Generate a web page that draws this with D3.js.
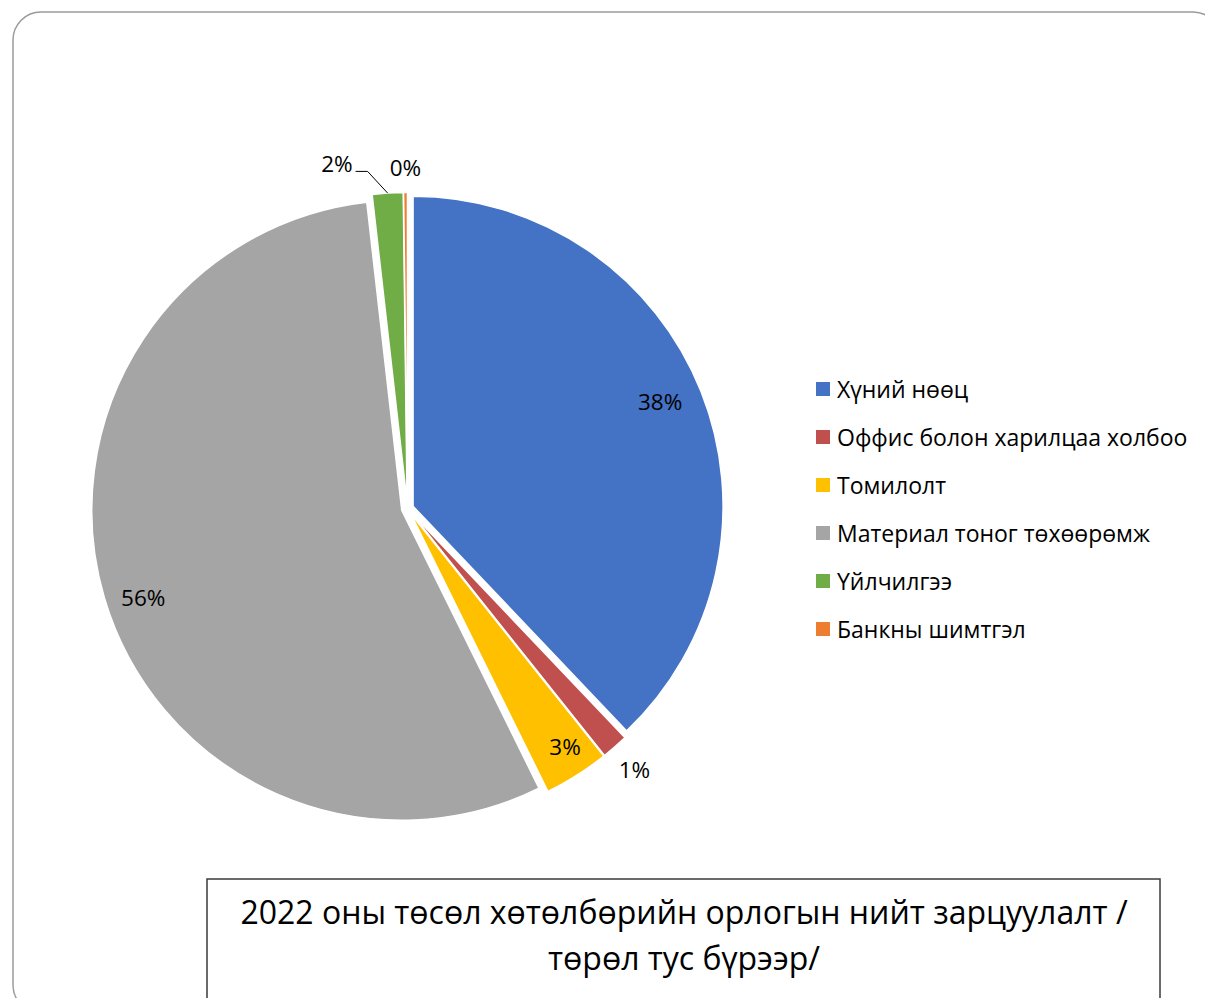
<!DOCTYPE html>
<html>
<head>
<meta charset="utf-8">
<script src="https://cdn.jsdelivr.net/npm/d3@7/dist/d3.min.js"></script>
<style>
  html, body { margin: 0; padding: 0; background: #fff; }
  svg { display: block; }
  text { font-family: "Open Sans", "Noto Sans", sans-serif; fill: #000; }
</style>
</head>
<body>
<svg id="chart" width="1205" height="998"></svg>
<script>
const categories = ["Хүний нөөц", "Оффис болон харилцаа холбоо", "Томилолт", "Материал тоног төхөөрөмж", "Үйлчилгээ", "Банкны шимтгэл"];
const values = [37.9, 1.4, 3.4, 55.5, 1.6, 0.2];
const colors = ["#4472C4", "#C0504D", "#FFC000", "#A5A5A5", "#70AD47", "#ED7D31"];
const titleLines = ["2022 оны төсөл хөтөлбөрийн орлогын нийт зарцуулалт /", "төрөл тус бүрээр/"];

const svg = d3.select("#chart");

// outer rounded frame
svg.append("rect")
  .attr("x", 13).attr("y", 12).attr("width", 1208).attr("height", 1001)
  .attr("rx", 28).attr("ry", 28)
  .attr("fill", "none").attr("stroke", "#9a9a9a").attr("stroke-width", 1.5);

const cx = 407.5, cy = 508.5, R = 310, explode = 6;
const g = svg.append("g").attr("transform", `translate(${cx},${cy})`);

const pie = d3.pie().sort(null).value(d => d.v).startAngle(0).endAngle(2 * Math.PI);
const data = categories.map((c, i) => ({ c, v: values[i], color: colors[i] }));
const arcs = pie(data);
const arc = d3.arc().innerRadius(0).outerRadius(R);
const total = d3.sum(values);

const polar = (a, r) => [Math.sin(a) * r, -Math.cos(a) * r];

arcs.forEach(a => {
  const mid = (a.startAngle + a.endAngle) / 2;
  const [ox, oy] = polar(mid, explode);
  g.append("path")
    .attr("d", arc(a))
    .attr("transform", `translate(${ox},${oy})`)
    .attr("fill", a.data.color)
    .attr("stroke", "#fff").attr("stroke-width", 1.5);
});

// labels
const fmt = v => Math.round(v / total * 100) + "%";
const fs = 22.5;
arcs.forEach((a, i) => {
  const mid = (a.startAngle + a.endAngle) / 2;
  const label = fmt(a.data.v);
  if (i === 4) {
    const p0 = polar(mid, R + explode);
    const p1 = polar(mid - 0.055, R * 1.095);
    const p2 = [p1[0] - 12, p1[1]];
    g.append("polyline")
      .attr("points", [p0, p1, p2].map(p => p.join(",")).join(" "))
      .attr("fill", "none").attr("stroke", "#000").attr("stroke-width", 1);
    g.append("text").attr("x", p2[0] - 3).attr("y", p2[1] - 8)
      .attr("text-anchor", "end").attr("dominant-baseline", "central").attr("font-size", fs)
      .text(label);
    return;
  }
  let rr, da = 0;
  if (i === 0) { rr = R * 0.885; da = -0.02; }
  else if (i === 3) { rr = R * 0.9; da = -0.04; }
  else if (i === 2) { rr = R * 0.92; da = -0.02; }
  else if (i === 1) rr = R * 1.115;
  else rr = R * 1.1;
  const [x, y] = polar(mid + da, rr);
  g.append("text").attr("x", x).attr("y", y)
    .attr("text-anchor", "middle").attr("dominant-baseline", "central")
    .attr("font-size", fs)
    .text(label);
});

// legend
const legend = svg.append("g").attr("transform", "translate(816,389)");
const rowStep = 48;
categories.forEach((c, i) => {
  const row = legend.append("g").attr("transform", `translate(0,${i * rowStep})`);
  row.append("rect").attr("x", 0).attr("y", -7).attr("width", 14).attr("height", 14).attr("fill", colors[i]);
  row.append("text").attr("x", 21).attr("y", 0).attr("dominant-baseline", "central")
    .attr("font-size", 23).attr("fill", "#000").text(c);
});

// title box
svg.append("rect").attr("x", 207).attr("y", 879).attr("width", 953).attr("height", 140)
  .attr("fill", "#fff").attr("stroke", "#3a3a3a").attr("stroke-width", 1.5);
titleLines.forEach((t, i) => {
  svg.append("text").attr("x", 684).attr("y", 924 + i * 46)
    .attr("text-anchor", "middle").attr("font-size", 32).text(t);
});
</script>
</body>
</html>
